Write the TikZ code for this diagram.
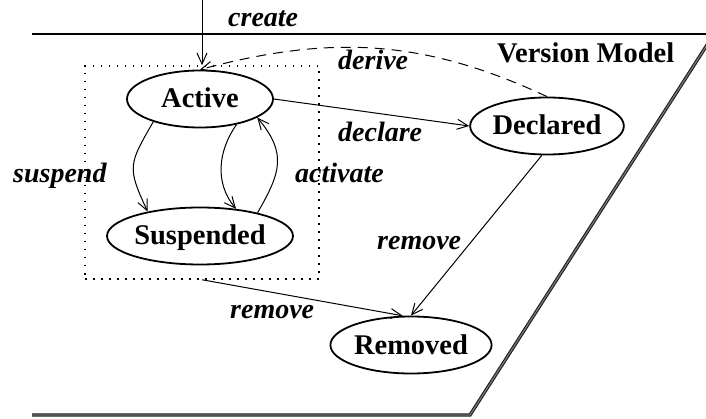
\documentclass[tikz,border=0pt]{standalone}
\usepackage{fontspec}
\setmainfont{Liberation Serif}
\usetikzlibrary{arrows.meta,shapes.geometric}
\begin{document}
\begin{tikzpicture}[x=1pt,y=-1pt,
  state/.style={ellipse,draw,line width=1.8pt,minimum width=146pt,minimum height=57pt,
    inner sep=0pt,font=\fontsize{28.5}{30}\selectfont\bfseries,text height=18pt,text depth=0pt},
  lbl/.style={anchor=base west,inner sep=0pt,font=\fontsize{28}{30}\selectfont\bfseries\itshape},
  title/.style={anchor=base west,inner sep=0pt,font=\fontsize{28.5}{30}\selectfont\bfseries},
  trans/.style={line width=1pt,-{Straight Barb[length=11pt,width=10pt]}},
  group/.style={draw,line width=1.5pt,dash pattern=on 1.5pt off 6.5pt,
    minimum width=234pt,minimum height=213pt,inner sep=0pt},
  rim/.style={line width=1pt,draw=black!90,double=black!55,double distance=1.3pt},
]
\useasboundingbox (0,0) rectangle (706,419);

% model frame: thin top edge, shadowed right and bottom edges
\begin{scope}
  \clip (0,0) rectangle (706,419);
  \draw[line width=1.2pt] (32,34) -- (706,34);
  \draw[rim] (32,415) -- (470,415) -- (714,34);
\end{scope}
\node[title] at (497,63) {Version Model};

% states
\node[state] (A) at (200,99)  {Active};
\node[state] (S) at (200,236) {Suspended};
\node[state] (D) at (547,126) {Declared};
\node[state] (R) at (411,345) {Removed};
\node[group] (grp) at (202,172.5) {};

% creation
\coordinate (in) at (202,0);
\draw[trans] (in) -- (grp.north);
\node[lbl] at (228,27) {create};

% transitions
\draw[trans,dash pattern=on 10pt off 7pt] (D.north) to[out=155,in=15] (A.north);
\node[lbl] at (338,70) {derive};

\draw[trans] (A.east) -- (D.west);
\node[lbl] at (338,142) {declare};

\draw[trans] (A.206) to[out=240,in=115,looseness=1.4] (S.155);
\node[lbl] at (13,183) {suspend};

\draw[trans] (A.325) to[out=235,in=130] (S.37);
\draw[trans] (S.22) to[out=60,in=310,looseness=1.25] (A.342);
\node[lbl] at (295,183) {activate};

\draw[trans] (D.260) -- (R.north);
\node[lbl] at (377,250) {remove};

\draw[trans] (grp.south) -- (R.106);
\node[lbl] at (230,318) {remove};
\end{tikzpicture}
\end{document}
